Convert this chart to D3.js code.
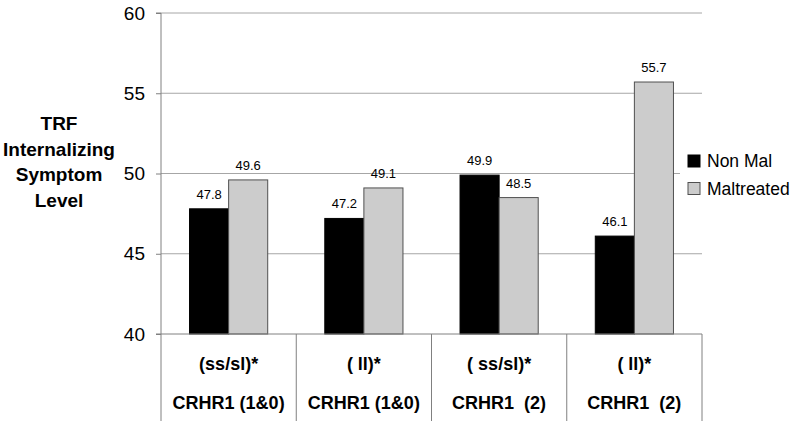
<!DOCTYPE html>
<html><head><meta charset="utf-8">
<script src="https://cdn.jsdelivr.net/npm/d3@7"></script>
<style>body{margin:0;background:#fff}svg{display:block}text{font-family:Arial,"Liberation Sans",sans-serif}</style>
</head><body>
<svg id="c" width="800" height="421"></svg>
<script>
const groupLabels = ["(ss/sl)*", "( ll)*", "( ss/sl)*", "( ll)*"];
const geneLabels = ["CRHR1 (1&0)", "CRHR1 (1&0)", "CRHR1  (2)", "CRHR1  (2)"];
const seriesNames = ["Non Mal", "Maltreated"];
const nonMal = [47.8, 47.2, 49.9, 46.1];
const maltreated = [49.6, 49.1, 48.5, 55.7];
const yTicks = [40, 45, 50, 55, 60];
const titleLines = ["TRF", "Internalizing", "Symptom", "Level"];
const colors = ["#000000", "#cccccc"];
const strokes = ["#000000", "#505050"];

const svg = d3.select("#c");
const x = d3.scaleBand().domain(d3.range(groupLabels.length)).range([161, 702]).padding(0);
const xs = d3.scaleBand().domain(seriesNames).range([0, x.bandwidth()]).paddingInner(0).paddingOuter(0.73);
const y = d3.scaleLinear().domain([40, 60]).range([334, 13]);

// gridlines
svg.append("g").selectAll("line").data(yTicks.filter(t => t > 40)).join("line")
  .attr("x1", 161).attr("x2", 702).attr("y1", d => y(d)).attr("y2", d => y(d))
  .attr("stroke", "#a6a6a6").attr("stroke-width", 1);

// y axis
const ya = svg.append("g").attr("transform", "translate(161,0)")
  .call(d3.axisLeft(y).tickValues(yTicks).tickSize(5).tickPadding(11));
ya.select(".domain").attr("stroke", "#808080").attr("d", `M-5,${y(60)}H0V${y(40)}`);
ya.selectAll(".tick line").attr("stroke", "#808080");
ya.selectAll(".tick text").attr("font-size", 19).attr("fill", "#000").attr("font-family", "Arial, 'Liberation Sans', sans-serif");

// bars
const data = groupLabels.map((g, i) => seriesNames.map((s, j) => ({i, s, j, v: j === 0 ? nonMal[i] : maltreated[i]})));
const gg = svg.append("g").selectAll("g").data(data).join("g")
  .attr("transform", (d, i) => `translate(${x(i)},0)`);
gg.selectAll("rect").data(d => d).join("rect")
  .attr("x", d => xs(d.s)).attr("width", xs.bandwidth())
  .attr("y", d => y(d.v)).attr("height", d => y(40) - y(d.v))
  .attr("fill", d => colors[d.j]).attr("stroke", d => strokes[d.j]).attr("stroke-width", 1);
gg.selectAll("text").data(d => d).join("text")
  .attr("x", d => xs(d.s) + xs.bandwidth() / 2).attr("y", d => y(d.v) - 10)
  .attr("text-anchor", "middle").attr("font-size", 13).attr("fill", "#000")
  .text(d => d.v.toFixed(1));

// x axis line and table
svg.append("line").attr("x1", 156).attr("x2", 702).attr("y1", y(40)).attr("y2", y(40)).attr("stroke", "#808080");
const bounds = d3.range(groupLabels.length + 1).map(i => i < groupLabels.length ? x(i) : x(i - 1) + x.bandwidth());
svg.append("g").selectAll("line").data(bounds).join("line")
  .attr("x1", d => d).attr("x2", d => d).attr("y1", y(40)).attr("y2", 421)
  .attr("stroke", "#808080");
svg.append("g").selectAll("text").data(groupLabels).join("text")
  .attr("x", (d, i) => x(i) + x.bandwidth() / 2).attr("y", 370)
  .attr("text-anchor", "middle").attr("font-size", 18).attr("font-weight", "bold").text(d => d);
svg.append("g").selectAll("text").data(geneLabels).join("text")
  .attr("x", (d, i) => x(i) + x.bandwidth() / 2).attr("y", 409)
  .attr("text-anchor", "middle").attr("font-size", 18).attr("font-weight", "bold")
  .attr("xml:space", "preserve").style("white-space", "pre").text(d => d);

// y title
svg.append("g").selectAll("text").data(titleLines).join("text")
  .attr("x", 59).attr("y", (d, i) => 130 + i * 25.5)
  .attr("text-anchor", "middle").attr("font-size", 19).attr("font-weight", "bold").text(d => d);

// legend
svg.append("rect").attr("x", 680).attr("y", 140).attr("width", 120).attr("height", 70).attr("fill", "#fff");
const lg = svg.append("g").selectAll("g").data(seriesNames).join("g")
  .attr("transform", (d, i) => `translate(688,${155 + i * 27.5})`);
lg.append("rect").attr("width", 12).attr("height", 12)
  .attr("fill", (d, i) => colors[i]).attr("stroke", (d, i) => strokes[i]);
lg.append("text").attr("x", 19).attr("y", 12).attr("font-size", 17.5).text(d => d);
</script>
</body></html>
